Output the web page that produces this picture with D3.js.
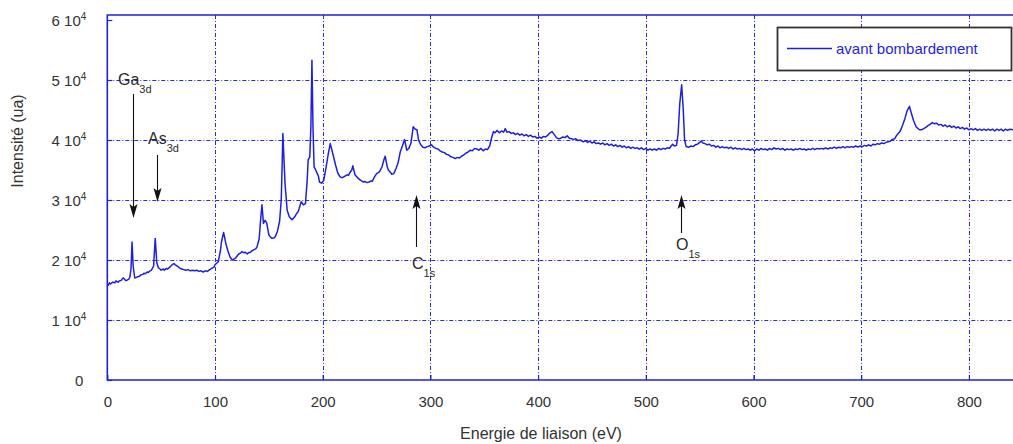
<!DOCTYPE html>
<html>
<head>
<meta charset="utf-8">
<script src="https://cdn.jsdelivr.net/npm/d3@7"></script>
<style>
  html, body { margin: 0; padding: 0; background: #fff; }
  svg { display: block; font-family: "Liberation Sans", Arial, sans-serif; }
</style>
</head>
<body>
<svg id="chart" width="1013" height="444"></svg>
<script>
// ---------- data: [binding energy eV, intensity in 1e4 units] ----------
const spectrum = [
[0,1.60],[1,1.58],[2,1.62],[3,1.60],[5,1.63],[7,1.62],[8,1.65],[10,1.63],[11,1.65],[13,1.66],[14,1.69],[15,1.70],[16,1.68],[17,1.66],[18,1.66],[20,1.68],[21,1.72],[22,1.85],[23,2.30],[24,1.90],[25.5,1.70],[27,1.71],[28,1.72],[30,1.73],[31,1.75],[33,1.76],[34,1.78],[35,1.77],[37,1.80],[38,1.79],[39,1.81],[41,1.83],[43,1.90],[44.5,2.36],[46,1.95],[47.5,1.87],[49,1.85],[50,1.83],[52,1.85],[53,1.83],[55,1.86],[56,1.85],[58,1.88],[59,1.90],[61,1.93],[62,1.94],[63,1.92],[65,1.90],[67,1.87],[69,1.85],[71,1.84],[73,1.83],[75,1.84],[77,1.82],[79,1.83],[81,1.82],[83,1.83],[85,1.81],[87,1.82],[89,1.80],[91,1.82],[93,1.81],[95,1.84],[97,1.86],[99,1.88],[100,1.92],
[103,1.97],[105,2.15],[106,2.30],[108,2.46],[110,2.28],[112,2.15],[114,2.05],[116,2.00],[118,2.02],[119,2.03],[121,2.08],[122,2.10],[124,2.12],[125,2.14],[127,2.12],[128,2.13],[130,2.10],[131,2.12],[133,2.13],[134,2.15],[136,2.17],[138,2.19],[139,2.22],[141,2.35],[142.5,2.70],[143.6,2.92],[145,2.61],[146.5,2.66],[148,2.62],[150,2.42],[151.5,2.38],[153,2.36],[155,2.37],[156,2.39],[158,2.48],[160,2.65],[161.5,3.00],[162.5,3.70],[163,4.11],[164,3.70],[165,3.28],[167,2.83],[169,2.72],[171.5,2.67],[173,2.70],[174,2.72],[176,2.78],[177,2.80],[178,2.85],[180,2.97],[182,2.92],[184,2.94],[185.5,3.30],[186.5,3.67],[188,3.72],[189,4.20],[190,5.33],[191,4.20],[192,3.55],[193,3.52],[194,3.48],[195,3.44],[196,3.40],[197,3.30],[199,3.28],
[201,3.33],[203,3.53],[205,3.75],[207,3.94],[209,3.80],[212,3.58],[214,3.45],[216,3.39],[218,3.37],[219,3.38],[221,3.40],[222.5,3.42],[224,3.41],[225,3.45],[227,3.50],[228,3.57],[230,3.42],[231,3.40],[233,3.36],[235,3.33],[236,3.32],[238,3.30],[239,3.31],[241,3.29],[243,3.30],[245,3.32],[246,3.31],[248,3.38],[250,3.44],[252,3.46],[253,3.48],[255,3.55],[257,3.68],[258,3.73],[260,3.55],[261,3.50],[263,3.46],[264,3.43],[266,3.44],[268,3.52],[270,3.62],[272,3.80],[274,3.90],[276,4.01],[278,3.83],[280,3.86],[282,3.95],[284,4.22],[286,4.18],[287.5,4.17],[289,4.00],[291,3.92],[293,3.88],[295,3.87],[297,3.89],[299,3.90],
[301,3.92],[303,3.88],[305,3.86],[307,3.85],[309,3.82],[311,3.80],[313,3.79],[315,3.76],[317,3.75],[319,3.72],[321,3.71],[323,3.69],[325,3.71],[327,3.70],[329,3.73],[331,3.75],[333,3.78],[335,3.80],[337,3.83],[339,3.82],[341,3.86],[343,3.85],[345,3.83],[347,3.86],[349,3.82],[351,3.85],[353,3.84],[355,3.90],[357,4.05],[358.6,4.14],[360,4.12],[362,4.16],[364,4.12],[366,4.15],[368,4.13],[369.5,4.19],[371,4.13],[373,4.14],[375,4.11],[377,4.12],[379,4.09],[381,4.11],[383,4.08],[385,4.10],[387,4.07],[389,4.09],[391,4.06],[393,4.08],[395,4.05],[397,4.06],[399,4.03],
[401,4.05],[403,4.03],[405,4.06],[407,4.05],[409,4.08],[411,4.12],[413,4.14],[415,4.09],[417,4.04],[419,4.02],[421,4.03],[423,4.05],[425,4.04],[427,4.07],[429,4.03],[431,4.02],[433,4.01],[435,4.02],[437,3.99],[439,4.00],[442,3.97],[444,3.99],[446,3.96],[448,3.98],[450,3.95],[452,3.97],[454,3.94],[456,3.95],[458,3.93],[460,3.95],[462,3.92],[464,3.94],[466,3.91],[468,3.93],[470,3.90],[472,3.92],[474,3.89],[476,3.91],[478,3.88],[480,3.90],[482,3.87],[484,3.89],[486,3.86],[488,3.88],[490,3.86],[492,3.87],[494,3.85],[496,3.87],[498,3.84],
[500,3.86],[502,3.83],[504,3.85],[506,3.83],[508,3.85],[510,3.83],[512,3.86],[514,3.84],[516,3.86],[518,3.85],[520,3.87],[522,3.86],[523.5,3.90],[525,3.93],[526.5,3.90],[528.5,3.91],[530,4.10],[531.5,4.60],[533.3,4.92],[534.8,4.50],[536,4.00],[537.5,3.89],[540,3.88],[542,3.90],[544,3.89],[546,3.92],[548,3.93],[550,3.96],[551.5,3.98],[553,3.95],[555,3.94],[557,3.92],[559,3.93],[561,3.90],[563,3.91],[565,3.88],[567,3.90],[569,3.87],[571,3.89],[573,3.87],[575,3.88],[577,3.86],[579,3.88],[581,3.85],[583,3.87],[585,3.85],[587,3.86],[589,3.84],[591,3.86],[593,3.84],[595,3.85],[597,3.83],[599,3.85],
[601,3.82],[603,3.85],[605,3.83],[607,3.86],[609,3.84],[611,3.85],[613,3.83],[615,3.86],[617,3.84],[619,3.87],[621,3.85],[623,3.86],[625,3.84],[627,3.86],[629,3.83],[631,3.85],[633,3.84],[635,3.85],[637,3.83],[639,3.85],[641,3.84],[643,3.86],[645,3.84],[647,3.85],[649,3.83],[651,3.85],[653,3.84],[655,3.86],[657,3.84],[659,3.86],[661,3.85],[663,3.86],[665,3.85],[667,3.87],[669,3.85],[671,3.87],[673,3.86],[675,3.88],[677,3.86],[679,3.88],[681,3.87],[683,3.89],[685,3.87],[687,3.89],[689,3.88],[691,3.89],[693,3.88],[695,3.90],[697,3.88],[699,3.90],
[701,3.89],[703,3.91],[705,3.90],[707,3.92],[709,3.90],[711,3.93],[713,3.92],[715,3.94],[717,3.93],[719,3.95],[721,3.94],[723,3.96],[725,3.97],[727,3.98],[729,4.01],[731,4.02],[733,4.08],[736,4.14],[738.5,4.25],[740.6,4.36],[742.5,4.48],[744.8,4.56],[746.5,4.45],[748.5,4.33],[751,4.22],[754,4.17],[756,4.17],[758,4.19],[760,4.21],[762,4.24],[764,4.26],[766,4.29],[768,4.27],[770,4.28],[772,4.25],[774,4.26],[776,4.23],[778,4.25],[780,4.22],[782,4.24],[784,4.21],[786,4.23],[788,4.20],[790,4.22],[792,4.19],[794,4.21],[796,4.18],[798,4.20],
[800,4.17],[802,4.19],[804,4.17],[806,4.19],[808,4.16],[810,4.18],[812,4.16],[814,4.18],[816,4.16],[818,4.18],[820,4.16],[822,4.18],[824,4.15],[826,4.18],[828,4.16],[830,4.18],[832,4.15],[834,4.18],[836,4.16],[838,4.18],[841,4.17]
];
const intensityUnit = 1e4;

const xTicks = [0,100,200,300,400,500,600,700,800];
const yTicks = [0,10000,20000,30000,40000,50000,60000];
const yTickMantissa = ["0","1","2","3","4","5","6"];
const seriesName = "avant bombardement";
const xTitle = "Energie de liaison (eV)";
const yTitle = "Intensité (ua)";

// peak annotations: label, subscript, energy of the arrow
const annotations = [
  {label: "Ga", sub: "3d", e: 24},
  {label: "As", sub: "3d", e: 46},
  {label: "C",  sub: "1s", e: 287},
  {label: "O",  sub: "1s", e: 533}
];

// ---------- layout ----------
const L = 107.3, R = 1013, T = 15, B = 380;
const BLUE = "#1f1fe0", GRID = "#2a2aee", TXT = "#333";

const svg = d3.select("#chart");
const x = d3.scaleLinear().domain([0, 800]).range([L, 968.9]);
const y = d3.scaleLinear().domain([0, 60000]).range([B, 20]);

svg.append("defs").append("clipPath").attr("id", "clip")
  .append("rect").attr("x", L).attr("y", T).attr("width", R - L).attr("height", B - T);

// grid
const grid = svg.append("g").attr("stroke", GRID).attr("stroke-width", 1)
  .attr("stroke-dasharray", "4,2,1,2").attr("fill", "none");
grid.selectAll("line.v").data(xTicks.filter(d => d > 0)).join("line")
  .attr("x1", d => Math.round(x(d)) + 0.5).attr("x2", d => Math.round(x(d)) + 0.5)
  .attr("y1", T).attr("y2", B);
grid.selectAll("line.h").data(yTicks.filter(d => d > 0 && d < 60000)).join("line")
  .attr("x1", L).attr("x2", R)
  .attr("y1", d => Math.round(y(d)) + 0.5).attr("y2", d => Math.round(y(d)) + 0.5);

// axes (ticks + labels)
const xAxis = d3.axisBottom(x).tickValues(xTicks).tickSize(-5).tickPadding(16).tickFormat(d3.format("d"));
const gx = svg.append("g").attr("transform", `translate(0,${B})`).call(xAxis);
gx.select(".domain").remove();
gx.selectAll(".tick line").attr("stroke", BLUE).attr("stroke-width", 1.2);
gx.selectAll(".tick text").attr("fill", TXT).attr("font-size", 15)
  .attr("font-family", "Liberation Sans, Arial, sans-serif");

const yAxis = d3.axisLeft(y).tickValues(yTicks).tickSize(-5).tickPadding(21).tickFormat("");
const gy = svg.append("g").attr("transform", `translate(${L},0)`).call(yAxis);
gy.select(".domain").remove();
gy.selectAll(".tick line").attr("stroke", BLUE).attr("stroke-width", 1.2);
gy.selectAll(".tick text").each(function(d, i) {
  const t = d3.select(this).attr("fill", TXT).attr("font-size", 15)
    .attr("font-family", "Liberation Sans, Arial, sans-serif").attr("dy", "0.35em");
  if (d === 0) { t.text(yTickMantissa[i]); t.attr("x", -24); return; }
  t.append("tspan").text(yTickMantissa[i] + " 10");
  t.append("tspan").attr("font-size", 10).attr("dy", "-0.55em").text("4");
});

// frame
svg.append("path").attr("d", `M${R},${T}H${L}V${B}H${R}`)
  .attr("stroke", BLUE).attr("stroke-width", 1.6).attr("fill", "none");

// spectrum line
const line = d3.line().x(d => x(d[0])).y(d => y(d[1] * intensityUnit));
svg.append("path").datum(spectrum).attr("clip-path", "url(#clip)")
  .attr("fill", "none").attr("stroke", BLUE).attr("stroke-width", 1.5)
  .attr("stroke-linejoin", "round").attr("d", line);

// annotations
const ann = svg.append("g").attr("font-family", "Liberation Sans, Arial, sans-serif");
function arrow(g, xp, y1, y2) {
  const dir = y2 > y1 ? 1 : -1;
  g.append("line").attr("x1", xp).attr("x2", xp).attr("y1", y1).attr("y2", y2 - dir * 10)
    .attr("stroke", "#111").attr("stroke-width", 1.1);
  g.append("path").attr("d", `M${xp},${y2}L${xp - 4},${y2 - dir * 14}L${xp},${y2 - dir * 11}L${xp + 4},${y2 - dir * 14}Z`)
    .attr("fill", "#111");
}
function label(g, xp, yp, txt, sub) {
  const t = g.append("text").attr("x", xp).attr("y", yp).attr("fill", "#2a2a2a").attr("font-size", 16);
  t.append("tspan").text(txt);
  t.append("tspan").attr("font-size", 11).attr("dy", 8).text(sub);
}
const annLayout = {
  Ga: {y1: 94, y2: 218, lx: 118, ly: 85},
  As: {y1: 155, y2: 202, lx: 148, ly: 144},
  C:  {y1: 247, y2: 195, lx: 412, ly: 269},
  O:  {y1: 233, y2: 195, lx: 676, ly: 250}
};
annotations.forEach(a => {
  const p = annLayout[a.label];
  const xp = Math.round(x(a.e)) + 0.5;
  arrow(ann, xp, p.y1, p.y2);
  label(ann, p.lx, p.ly, a.label, a.sub);
});

// axis titles
svg.append("text").attr("x", 541).attr("y", 439).attr("text-anchor", "middle")
  .attr("font-size", 16).attr("fill", TXT).text(xTitle);
svg.append("text").attr("transform", "translate(23,141) rotate(-90)").attr("text-anchor", "middle")
  .attr("font-size", 16).attr("fill", TXT).text(yTitle);

// legend
const lg = svg.append("g");
lg.append("rect").attr("x", 777.5).attr("y", 27.5).attr("width", 234).attr("height", 43)
  .attr("fill", "#fff").attr("stroke", "#333").attr("stroke-width", 1.8);
lg.append("line").attr("x1", 787).attr("x2", 832).attr("y1", 48.5).attr("y2", 48.5)
  .attr("stroke", BLUE).attr("stroke-width", 1.4);
lg.append("text").attr("x", 836).attr("y", 54).attr("font-size", 15).attr("fill", BLUE).text(seriesName);
</script>
</body>
</html>
